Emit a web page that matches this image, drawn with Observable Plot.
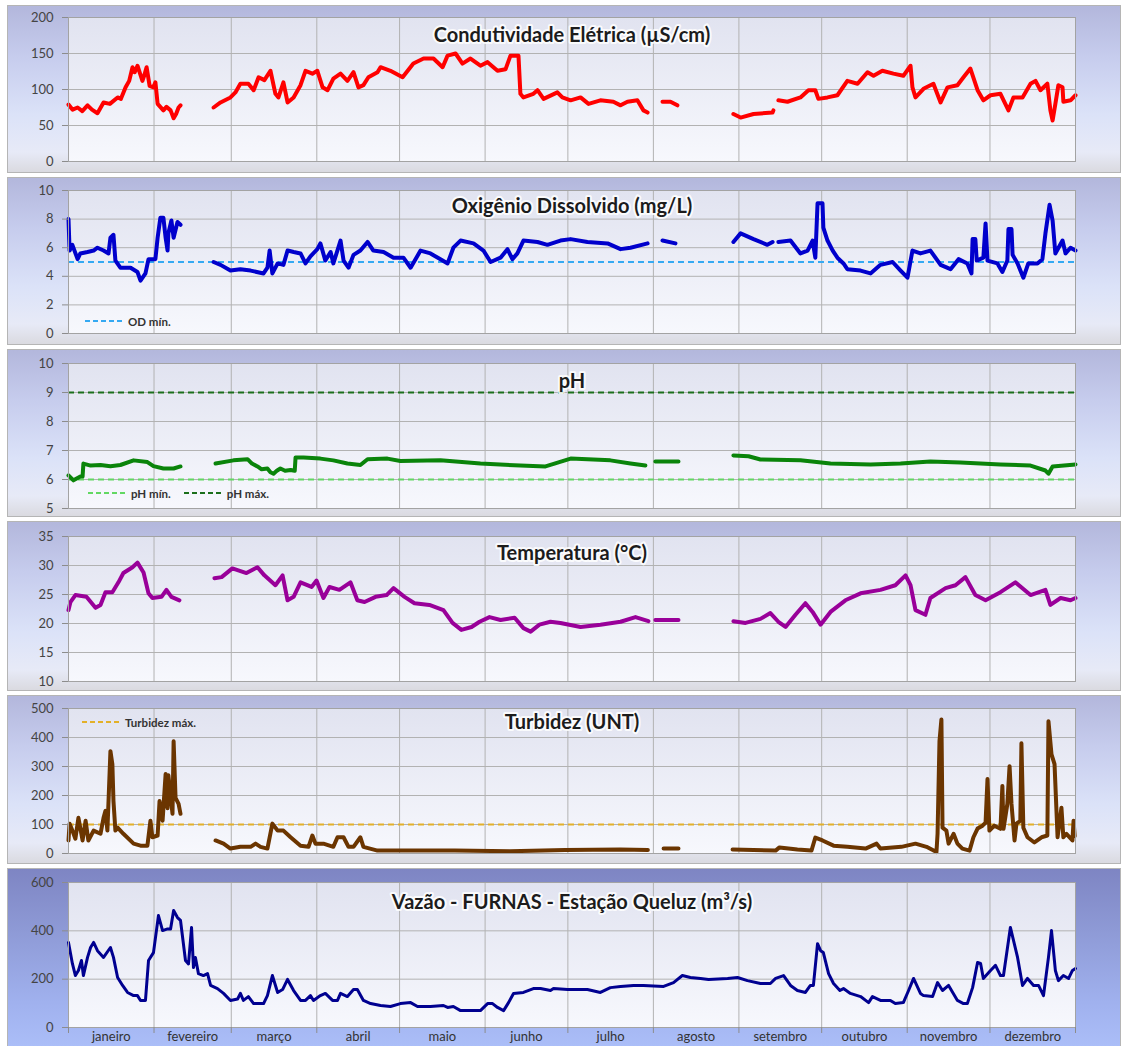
<!DOCTYPE html>
<html><head><meta charset="utf-8">
<script src="https://cdn.jsdelivr.net/npm/d3@7"></script>
<script src="https://cdn.jsdelivr.net/npm/@observablehq/plot@0.6"></script>
<style>
body{margin:0;background:#fff;}
#wrap{position:relative;width:1123px;height:1046px;overflow:hidden;font-family:Lato,sans-serif;}
.pnl{position:absolute;left:7px;width:1114px;box-sizing:border-box;border:1.5px solid #b5b5b5;}
.svgbox{position:absolute;left:0;}
.leg{position:absolute;height:16px;display:flex;align-items:center;font:bold 11.5px Lato,sans-serif;color:#333;white-space:nowrap;}
.leg svg{margin-right:3px;}
</style></head>
<body><div id="wrap"></div>
<script>
// ---- data: [day of year, value]; null = no data ----
const condutividade = [[0,79],[1.5,72],[3.3,75],[5,70],[6.9,78],[8.5,72],[10.5,67],[12.7,82],[15,80],[17.8,89],[19,87],[20.7,103],[22,112],[23.2,131],[24,124],[25,133],[26.8,112],[27.5,120],[28.3,131],[29.4,105],[30.8,103],[31.5,110],[32.3,80],[34.4,71],[35.5,76],[37,71],[38.1,60],[39,66],[39.9,75],[40.6,78],[46,null],
[52.6,75],[55.1,82],[58.7,89],[60.5,96],[62.3,108],[65.2,108],[67.1,99],[68.9,117],[71,113],[73.2,126],[75,94],[76.1,89],[77.9,110],[79.4,82],[81.6,89],[84.1,106],[85.9,126],[88.4,122],[90.2,126],[92.1,103],[93.9,99],[96,115],[98.6,122],[101.1,112],[103.3,124],[105.1,103],[106.9,106],[108.7,117],[112,124],[113.1,131],[116.7,126],[121.1,117],[125,136],[128.7,143],[132.3,143],[135.6,131],[137.4,147],[140.3,150],[142.8,136],[145.7,143],[149.3,133],[151.9,138],[155.5,126],[158.4,128],[160.2,147],[163.1,147],[163.8,94],[164.9,89],[168.5,94],[170,99],[172.2,87],[177.2,96],[179,89],[182,85],[185.6,89],[188.5,80],[192.8,85],[197.5,83],[200.1,78],[202.6,83],[206.2,85],[208.4,71],[209.9,68],[212,null],
[215.3,83],[218.2,83],[220.7,78],[230,null],
[241,66],[243.6,61],[248.3,66],[255.2,68],[255.5,71],[256.5,null],[257.3,85],[260.6,83],[265.3,89],[268.2,99],[270.7,99],[271.8,87],[275.1,89],[278.7,92],[282.3,112],[286,108],[289.6,124],[291.8,119],[295,126],[299,122],[302.6,119],[305.2,133],[305.9,103],[307,89],[309.9,101],[313.5,108],[316.1,82],[318.6,103],[322.2,106],[324.4,117],[326.9,129],[329.5,99],[331.6,85],[334.2,92],[337.8,94],[340.7,71],[342.5,89],[345.8,89],[348.7,108],[350.5,112],[352.3,99],[354.8,108],[355.9,71],[356.7,57],[357.7,80],[358.8,106],[360.3,103],[360.6,83],[363.2,85],[365,92]];

const oxigenio = [[0,8.0],[0.4,5.8],[1.4,6.2],[3.3,5.2],[4.3,5.6],[6.9,5.7],[9.1,5.8],[10.5,6.0],[12.7,5.8],[14.5,5.6],[15.2,6.7],[16.3,6.9],[17,5.1],[18.8,4.6],[22.5,4.6],[25,4.3],[26.1,3.7],[27.9,4.2],[29,5.2],[31.5,5.2],[32.3,6.7],[33.3,8.1],[34.4,8.1],[35.2,6.7],[35.9,5.8],[36.2,7.0],[37.3,7.9],[38.1,6.7],[39.5,7.8],[40.6,7.6],[46,null],
[52.6,5.0],[55.1,4.8],[58.7,4.4],[62.3,4.5],[66,4.4],[70.7,4.2],[72.1,4.6],[72.9,5.8],[73.9,4.2],[75.8,4.9],[77.9,4.8],[79.4,5.8],[81.6,5.7],[84.1,5.6],[85.9,4.9],[87.7,5.4],[90.2,5.9],[91.3,6.3],[93.1,5.1],[95,5.7],[96,4.9],[98.6,6.5],[99.7,5.1],[101.5,4.6],[103.3,5.5],[105.8,5.8],[108.4,6.4],[110.5,5.8],[114.2,5.7],[117.8,5.3],[121.4,5.3],[124,4.6],[127.6,5.8],[131.2,5.6],[135.6,5.1],[137.4,4.9],[139.5,6.0],[142.1,6.5],[146.8,6.3],[150.4,5.8],[153,5.0],[156.6,5.3],[159.1,5.9],[160.9,5.2],[162.7,5.6],[164.9,6.5],[170,6.4],[173.6,6.2],[178.3,6.5],[182,6.6],[188.1,6.4],[195.4,6.3],[200.1,5.9],[203.7,6.0],[209.9,6.3],[212,null],
[215.3,6.5],[220,6.3],[230,null],
[241,6.4],[243.6,7.0],[248.3,6.6],[253.3,6.2],[255.2,6.4],[256.3,null],[257.3,6.4],[261.7,6.5],[265.3,5.6],[267.9,5.8],[269.7,6.5],[270.7,5.3],[271.5,9.1],[273.3,9.1],[273.6,7.4],[275.1,6.5],[277,5.8],[278.7,5.3],[280.9,4.9],[282.3,4.5],[287.1,4.4],[290.7,4.2],[294.3,4.8],[298.7,5.0],[301.6,4.4],[304.1,3.9],[305.9,5.8],[308.8,5.6],[312.4,5.8],[316.1,4.8],[319.7,4.5],[322.6,5.2],[325.8,4.9],[327.3,4.2],[327.7,6.6],[328.7,6.6],[329.2,5.1],[331.6,5.3],[332.4,7.7],[333.1,5.1],[336.7,4.9],[338.5,4.3],[340.3,5.1],[340.7,7.3],[341.8,7.3],[342.2,5.5],[344,4.9],[346.1,3.9],[347.9,4.9],[351.2,4.9],[353,5.2],[354.1,7.0],[355.6,9.0],[356.7,7.9],[357.7,5.6],[360.3,6.5],[361.4,5.6],[363.2,6.0],[365,5.8]];

const ph = [[0,6.14],[1.8,5.97],[4.3,6.1],[5.1,6.1],[5.4,6.55],[8,6.48],[11.6,6.5],[15.2,6.46],[18.8,6.5],[23.6,6.66],[28.6,6.6],[30.8,6.46],[34.4,6.38],[38.1,6.38],[40.6,6.45],[46,null],
[53.3,6.55],[59.8,6.66],[64.9,6.7],[66.5,6.55],[68.5,6.45],[70,6.35],[72.1,6.38],[73.2,6.25],[74.3,6.2],[75.5,6.3],[76.8,6.38],[78.5,6.3],[80.5,6.33],[82,6.3],[82.3,6.76],[85.2,6.76],[91.3,6.72],[96,6.66],[101.1,6.55],[105.8,6.5],[108.4,6.7],[115.6,6.72],[120.3,6.64],[134.8,6.66],[149.3,6.55],[163.8,6.48],[172.9,6.45],[182,6.72],[196.4,6.66],[203.7,6.55],[209.1,6.48],[212,null],
[212.7,6.62],[221.1,6.62],[230,null],
[241,6.83],[246.5,6.8],[250.8,6.69],[265.3,6.66],[276.2,6.55],[290.7,6.52],[301.6,6.55],[312.4,6.62],[323.3,6.59],[337.8,6.52],[348.7,6.48],[354.1,6.31],[355.2,6.2],[356.7,6.45],[365,6.52]];

const temperatura = [[0,22.3],[0.7,23.7],[2.5,24.9],[6.5,24.6],[9.8,22.7],[11.6,23.2],[13.4,25.4],[15.9,25.4],[18.1,27.1],[19.9,28.7],[23.2,29.7],[25,30.5],[27.2,28.8],[29,25.2],[30.4,24.4],[33.7,24.6],[35.5,25.8],[37.3,24.6],[40.2,24.0],[46,null],
[52.9,27.8],[55.5,28.0],[59.4,29.5],[64.5,28.7],[68.5,29.7],[71,28.3],[75,26.6],[77.6,28.3],[79.4,24.0],[81.6,24.6],[84.1,27.1],[88.1,26.3],[89.9,27.4],[92.4,24.4],[94.6,26.3],[98.2,25.8],[102.2,27.1],[104.7,24.0],[107.3,23.7],[111.3,24.6],[115.3,24.9],[117.8,26.1],[121.8,24.6],[125.4,23.5],[130.8,23.2],[135.9,22.3],[139.2,20.1],[142.4,18.9],[146.1,19.4],[149,20.3],[152.6,21.1],[156.6,20.6],[161.7,21.0],[164.9,19.2],[167.5,18.6],[170.7,19.8],[174.7,20.3],[178.3,20.1],[185.6,19.4],[192.8,19.8],[200.1,20.3],[205.5,21.1],[210.2,20.4],[212,null],
[212.7,20.6],[221.1,20.6],[230,null],
[241,20.4],[245.4,20.1],[250.8,20.8],[254.4,21.8],[257.3,20.3],[259.9,19.4],[263.5,21.5],[267.1,23.5],[269.7,22.0],[272.6,19.8],[276.2,22.0],[281.6,24.0],[287.1,25.2],[294.3,25.8],[299.7,26.6],[303.4,28.3],[305.2,26.6],[307,22.3],[310.6,21.5],[312.4,24.4],[317.9,26.1],[321.5,26.6],[325.1,28.0],[328.7,24.9],[332.4,24.0],[337.8,25.4],[343.2,27.1],[348.7,24.9],[354.1,25.8],[355.9,23.2],[359.6,24.4],[363.2,24.0],[365,24.4]];

const turbidez = [[0,45],[0.4,103],[1.4,79],[2.5,51],[3.6,123],[5.1,45],[6.2,113],[7.2,45],[9.1,79],[11.6,68],[12.7,123],[13.4,147],[14.1,79],[15.2,353],[15.9,308],[16.3,181],[17,79],[17.8,89],[19.9,68],[23.6,34],[26.1,27],[28.6,27],[29.7,113],[30.4,56],[32.3,62],[33,181],[34.1,113],[35.2,274],[35.9,156],[36.2,270],[37.7,137],[38.1,387],[38.8,192],[39.9,171],[40.6,137],[46,null],
[53.3,45],[56.2,34],[58.7,17],[62.3,23],[66,23],[67.8,34],[69.6,23],[72.1,17],[73.9,103],[75.8,79],[77.9,79],[80.5,56],[84.1,27],[87,23],[88.4,62],[89.5,34],[92.4,34],[96,23],[97.5,56],[99.7,56],[101.5,23],[103.3,23],[105.8,56],[106.9,23],[112,10],[120.3,10],[140,10],[160,8],[180,12],[200,14],[210,12],[212,null],
[215.7,17],[221.1,17],[230,null],
[240.7,14],[256.3,10],[257.7,21],[264.2,14],[269.3,10],[270.7,55],[273.3,45],[277.3,27],[282.3,23],[288.9,17],[292.9,34],[294.3,17],[301.9,23],[307,34],[311,23],[314.6,5],[315,68],[315.7,387],[316.4,462],[316.8,89],[318.2,79],[319,34],[320.8,68],[322.2,34],[324,17],[326.6,10],[328,56],[329.5,86],[331.3,96],[332.4,106],[333.1,257],[333.8,79],[335.6,96],[337.8,85],[338.5,233],[338.9,85],[340.3,171],[341.1,301],[341.8,171],[342.9,45],[343.6,103],[345,113],[345.4,380],[346.1,89],[347.6,56],[350.1,38],[352.7,56],[354.8,62],[355.2,456],[356.3,342],[357.4,308],[358.5,56],[359.9,158],[360.6,56],[361.7,68],[363.9,45],[364.3,113],[364.7,60]];

const vazao = [[0,352],[1.4,265],[2.5,215],[3.6,236],[4.7,277],[5.4,215],[6.9,290],[8,331],[9.1,352],[10.5,318],[12.7,290],[15.2,331],[16.3,290],[17.8,207],[19.6,174],[21.4,145],[23.6,132],[25,132],[26.1,112],[27.9,112],[29,277],[30.8,310],[32.6,463],[34.1,401],[35.9,408],[37,408],[38.1,484],[39.5,455],[40.6,443],[42.4,277],[43.5,263],[44.6,414],[45.3,248],[46,290],[47.1,223],[48.9,215],[50.4,223],[51.5,174],[54,161],[56.2,141],[58.7,112],[61.3,118],[62.3,141],[63.4,112],[65.2,128],[67.1,99],[70.7,99],[72.1,132],[73.9,215],[75.8,145],[77.6,157],[79.4,199],[81.6,153],[84.1,112],[85.9,112],[87.7,132],[88.8,112],[91.3,132],[93.1,141],[95.7,112],[97.5,112],[98.6,141],[101.1,128],[103.3,157],[104.7,157],[106.9,112],[109.5,99],[113.1,91],[116.7,87],[120.3,99],[124,103],[126.5,87],[131.2,87],[135.9,91],[137.4,83],[139.5,87],[142.1,70],[149.3,70],[151.9,99],[153.7,99],[155.5,83],[157.7,70],[159.5,103],[161.3,141],[164.9,145],[168.5,161],[171.1,161],[174.7,153],[175.8,161],[180.9,157],[188.1,157],[192.8,145],[196.4,165],[200.1,170],[204.8,174],[208.4,174],[215.7,170],[219.3,186],[222.5,215],[225.4,207],[229.1,203],[232,199],[238.9,203],[242.5,207],[246.1,194],[250.8,182],[254.4,182],[256.3,203],[259.2,215],[261.7,174],[264.2,153],[267.1,145],[268.9,174],[270,174],[271.5,347],[272.6,318],[273.6,310],[275.5,223],[277.3,182],[279.6,153],[280.9,161],[283.4,141],[287.1,128],[290,103],[291.4,128],[294.3,112],[297.9,112],[299.7,99],[302.6,103],[304.5,153],[306.3,203],[308.8,141],[309.9,132],[313.2,128],[315,186],[316.8,153],[319,174],[322.2,112],[324.4,99],[325.8,99],[327.7,165],[329.5,269],[330.6,265],[331.6,203],[334.2,236],[336,257],[337.8,215],[338.9,215],[341.4,414],[344,290],[345.8,174],[347.6,203],[349.8,174],[351.6,174],[353.4,132],[355.2,290],[356.3,401],[357.7,236],[358.8,194],[360.6,215],[362.5,203],[363.9,236],[365,244]];

const meses = ["janeiro","fevereiro","março","abril","maio","junho","julho","agosto","setembro","outubro","novembro","dezembro"];
const titulos = ["Condutividade Elétrica (µS/cm)","Oxigênio Dissolvido (mg/L)","pH","Temperatura (°C)","Turbidez (UNT)","Vazão - FURNAS - Estação Queluz (m³/s)"];
const ticksCond = [0,50,100,150,200], ticksOD = [0,2,4,6,8,10], ticksPH = [5,6,7,8,9,10], ticksTemp = [10,15,20,25,30,35], ticksTurb = [0,100,200,300,400,500], ticksVaz = [0,200,400,600];
const odMin = 5, phMin = 6, phMax = 9, turbMax = 100;

// ---- helpers ----
const t0 = Date.UTC(2013,0,1);
const toDate = d => new Date(t0 + d*864e5);
const monthStarts = d3.range(13).map(m => new Date(Date.UTC(2013, m, 1)));
const monthMids = d3.range(12).map(m => new Date((+monthStarts[m] + +monthStarts[m+1]) / 2));

const panels = [
  {top:5, h:168, pt:17, pb:161, ticks:ticksCond, data:condutividade, color:"#ff0000", title:titulos[0], tdy:18, refs:[]},
  {top:177, h:168, pt:190, pb:333, ticks:ticksOD, data:oxigenio, color:"#0000cc", title:titulos[1], tdy:16, refs:[{v:odMin,c:"#35a9f2"}]},
  {top:349, h:168, pt:363, pb:508, ticks:ticksPH, data:ph, color:"#0a840a", title:titulos[2], tdy:18, refs:[{v:phMin,c:"#62d862"},{v:phMax,c:"#1b6f1b"}]},
  {top:521, h:170, pt:536, pb:681, ticks:ticksTemp, data:temperatura, color:"#990099", title:titulos[3], tdy:17, refs:[]},
  {top:695, h:169, pt:708, pb:853, ticks:ticksTurb, data:turbidez, color:"#6b3500", title:titulos[4], tdy:14, refs:[{v:turbMax,c:"#e3b028"}]},
  {top:868, h:180, pt:882, pb:1027, ticks:ticksVaz, data:vazao, color:"#000090", title:titulos[5], tdy:20, refs:[], last:true, sw:3}
];

const wrap = document.getElementById("wrap");
panels.forEach((p, i) => {
  const box = document.createElement("div");
  box.className = "pnl";
  box.style.top = p.top + "px";
  box.style.height = p.h + "px";
  box.style.background = p.last
    ? "linear-gradient(180deg,#7e85c3 0%,#8e9ad6 35%,#a0b1ee 75%,#abbef8 100%)"
    : "linear-gradient(180deg,#b3b7dc 0%,#c6cced 30%,#dbe2f8 65%,#e7eaf7 88%,#dadae0 100%)";
  wrap.appendChild(box);

  const marks = [
    Plot.frame({fill: `url(#pbg${i})`}),
    Plot.gridY(p.ticks, {stroke:"#b2b2b2", strokeOpacity:1}),
    Plot.gridX(monthStarts, {stroke:"#b2b2b2", strokeOpacity:1}),
    ...p.refs.map(r => Plot.ruleY([r.v], {stroke:r.c, strokeWidth:2, strokeDasharray:"6,4"})),
    Plot.line(p.data, {x: d => toDate(d[0]), y: d => d[1] ?? NaN, stroke:p.color, strokeWidth:p.sw || 4, strokeLinejoin:"round", strokeLinecap:"round"}),
    Plot.axisY(p.ticks, {tickSize:6, tickPadding:9, stroke:"#8c8c8c", fill:"#444", fontSize:13, label:null}),
    Plot.frame({stroke:"#a3a3a3"}),
    Plot.text([p.title], {frameAnchor:"top", lineAnchor:"middle", dy:p.tdy, fontSize:20, fontWeight:"bold", fill:"#1c1c1c", stroke:"white", strokeWidth:4, strokeOpacity:0.85, paintOrder:"stroke"})
  ];
  if (p.last) {
    marks.push(Plot.axisX(monthStarts, {tickSize:6, tickFormat:() => "", stroke:"#8c8c8c", label:null}));
    marks.push(Plot.axisX(monthMids, {tickSize:0, tickPadding:4, tickFormat: d => meses[d.getUTCMonth()], fill:"#333", fontSize:13, label:null}));
  }
  const svg = Plot.plot({
    width:1123, height:p.h,
    marginLeft:68, marginRight:48, marginTop:p.pt - p.top, marginBottom:p.top + p.h - p.pb,
    x:{type:"utc", domain:[monthStarts[0], monthStarts[12]], ...(p.last ? {} : {axis:null})},
    y:{domain:[p.ticks[0], p.ticks[p.ticks.length-1]]},
    style:{background:"transparent", fontFamily:"Lato, sans-serif", overflow:"visible"},
    marks
  });
  const defs = d3.select(svg).insert("defs", ":first-child");
  const g = defs.append("linearGradient").attr("id", `pbg${i}`).attr("x1",0).attr("y1",0).attr("x2",0).attr("y2",1);
  g.append("stop").attr("offset","0%").attr("stop-color","#e1e3f0");
  g.append("stop").attr("offset","100%").attr("stop-color","#f7f8fd");
  svg.classList.add("svgbox");
  svg.style.position = "absolute";
  svg.style.top = p.top + "px";
  svg.style.left = "0px";
  wrap.appendChild(svg);
});

// ---- legends ----
function legend(x, y, items) {
  const d = document.createElement("div");
  d.className = "leg";
  d.style.left = x + "px";
  d.style.top = (y - 8) + "px";
  d.innerHTML = items.map((it, k) =>
    `<svg width="40" height="4" style="margin-left:${k ? 13 : 0}px"><line x1="0" x2="40" y1="2" y2="2" stroke="${it.c}" stroke-width="2" stroke-dasharray="5,3"/></svg><span>${it.t}</span>`).join("");
  wrap.appendChild(d);
}
legend(85, 321, [{c:"#35a9f2", t:"OD mín."}]);
legend(88, 493, [{c:"#62d862", t:"pH mín."},{c:"#1b6f1b", t:"pH máx."}]);
legend(82, 722, [{c:"#e3b028", t:"Turbidez máx."}]);
</script>
</body></html>
